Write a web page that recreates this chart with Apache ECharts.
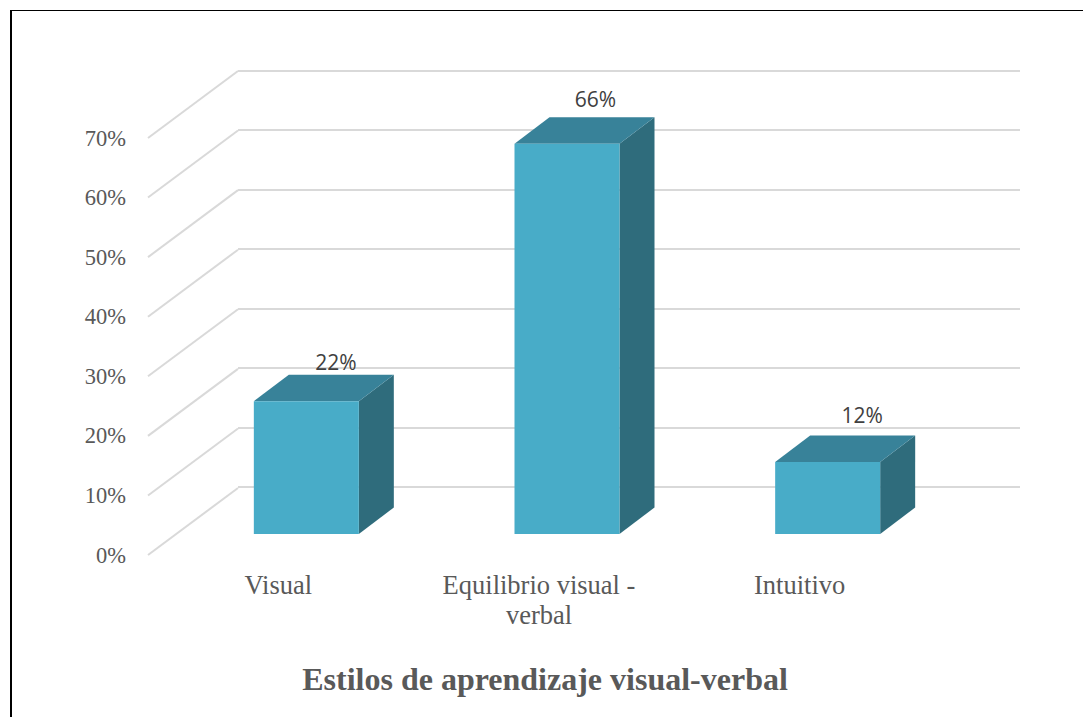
<!DOCTYPE html>
<html>
<head>
<meta charset="utf-8">
<title>Estilos de aprendizaje visual-verbal</title>
<script src="https://cdn.jsdelivr.net/npm/echarts@6/dist/echarts.min.js"></script>
<style>
  html, body { margin: 0; padding: 0; background: #fff; }
  #chart { width: 1083px; height: 717px; }
</style>
</head>
<body>
<div id="chart"></div>
<script>
var categories = ['Visual', 'Equilibrio visual -\nverbal', 'Intuitivo'];
var values = [22.3, 65.5, 12.1];
var ticks = [0, 10, 20, 30, 40, 50, 60, 70];
var titleText = 'Estilos de aprendizaje visual-verbal';

var serif = '"Liberation Serif", serif';
var grey = '#595959';
var rule = '#d9d9d9';

// perspective of the fake 3D box
var wallDx = 90, wallDy = -67;   // front plane -> back wall
var barDx = 35, barDy = -26.5;   // bar depth
var barShiftX = 28, barShiftY = -21;
var barW = 105;
// label placement differs a bit per bar in the source
var labelNudge = [[1, 5], [0, 0], [6, -2]];

var chart = echarts.init(document.getElementById('chart'), null, { renderer: 'svg' });

function renderWall(params, api) {
  var p = api.coord([0, api.value(0)]);
  var x0 = params.coordSys.x;
  return {
    type: 'polyline',
    shape: { points: [[x0, p[1]], [x0 + wallDx, p[1] + wallDy]] },
    style: { stroke: rule, lineWidth: 2, fill: 'none' }
  };
}

function renderBar(params, api) {
  var top = api.coord([api.value(0), api.value(1)]);
  var base = api.coord([api.value(0), 0]);
  var x0 = top[0] - barW / 2 + barShiftX;
  var x1 = x0 + barW;
  var y0 = top[1] + barShiftY;
  var y1 = base[1] + barShiftY;
  var nudge = labelNudge[params.dataIndex];
  return {
    type: 'group',
    children: [
      {
        type: 'polygon',
        shape: { points: [[x1, y0], [x1 + barDx, y0 + barDy], [x1 + barDx, y1 + barDy], [x1, y1]] },
        style: { fill: '#2f6c7c' }
      },
      {
        type: 'polygon',
        shape: { points: [[x0, y0], [x0 + barDx, y0 + barDy], [x1 + barDx, y0 + barDy], [x1, y0]] },
        style: { fill: '#388299' }
      },
      {
        type: 'rect',
        shape: { x: x0, y: y0, width: barW, height: y1 - y0 },
        style: { fill: '#48acc8' }
      },
      {
        type: 'text',
        style: {
          x: (x0 + x1 + barDx) / 2 + 11 + nudge[0],
          y: y0 + barDy - 18 + nudge[1],
          text: Math.round(api.value(1)) + '%',
          fill: '#404040',
          font: '21px "Open Sans", sans-serif',
          align: 'center',
          verticalAlign: 'middle'
        }
      }
    ]
  };
}

var option = {
  animation: false,
  backgroundColor: '#fff',
  title: {
    text: titleText,
    left: 540,
    top: 658,
    textAlign: 'center',
    textStyle: { fontFamily: serif, fontSize: 32, fontWeight: 'bold', color: grey }
  },
  grid: [
    { left: 238, right: 63, top: 70.5, height: 416.5 },
    { left: 148, width: 782, top: 138, height: 417 }
  ],
  xAxis: [
    { gridIndex: 0, type: 'category', data: categories, show: false },
    {
      gridIndex: 1,
      type: 'category',
      data: categories,
      axisLine: { show: false },
      axisTick: { show: false },
      axisLabel: { color: grey, fontFamily: serif, fontSize: 26.5, lineHeight: 30, margin: 15 }
    }
  ],
  yAxis: [
    {
      gridIndex: 0,
      type: 'value',
      min: 0,
      max: 70,
      interval: 10,
      axisLine: { show: false },
      axisTick: { show: false },
      axisLabel: { show: false },
      splitLine: { lineStyle: { color: rule, width: 2 } }
    },
    {
      gridIndex: 1,
      type: 'value',
      min: 0,
      max: 70,
      interval: 10,
      axisLine: { show: false },
      axisTick: { show: false },
      splitLine: { show: false },
      axisLabel: {
        color: grey,
        fontFamily: serif,
        fontSize: 22.5,
        margin: 22,
        formatter: '{value}%'
      }
    }
  ],
  series: [
    {
      type: 'custom',
      xAxisIndex: 1,
      yAxisIndex: 1,
      clip: false,
      silent: true,
      z: 1,
      renderItem: renderWall,
      encode: { y: 0 },
      data: ticks.map(function(t) { return [t]; })
    },
    {
      type: 'custom',
      xAxisIndex: 1,
      yAxisIndex: 1,
      clip: false,
      z: 3,
      renderItem: renderBar,
      encode: { x: 0, y: 1 },
      data: values.map(function(v, i) { return [i, v]; })
    }
  ],
  graphic: [
    { type: 'line', shape: { x1: 11, y1: 10, x2: 11, y2: 717 }, style: { stroke: '#000', lineWidth: 2 } },
    { type: 'line', shape: { x1: 10, y1: 10.5, x2: 1083, y2: 10.5 }, style: { stroke: '#000', lineWidth: 1 } }
  ]
};
chart.setOption(option);
window.addEventListener('resize', function() { chart.resize(); });
</script>
</body>
</html>
